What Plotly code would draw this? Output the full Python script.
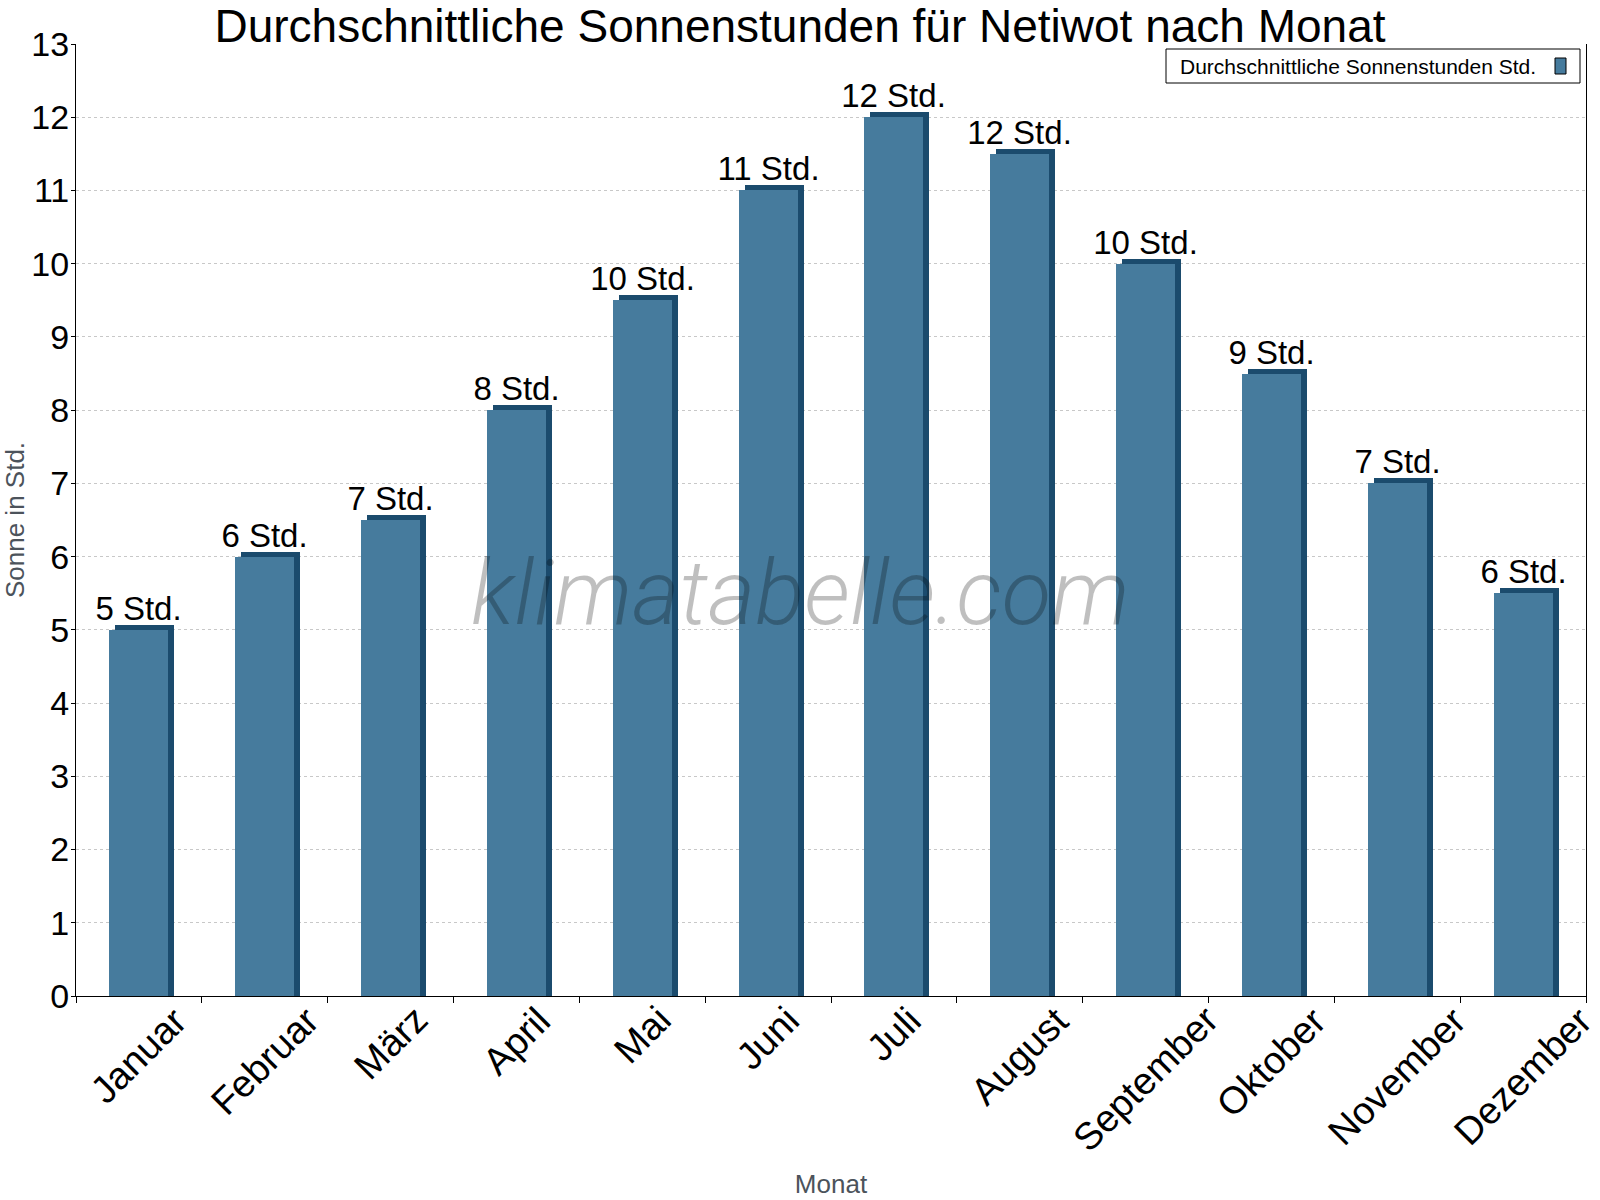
import plotly.graph_objects as go

months = ["Januar", "Februar", "März", "April", "Mai", "Juni", "Juli",
          "August", "September", "Oktober", "November", "Dezember"]
sun_hours = [5, 6, 6.5, 8, 9.5, 11, 12, 11.5, 10, 8.5, 7, 5.5]
value_labels = ["5 Std.", "6 Std.", "7 Std.", "8 Std.", "10 Std.", "11 Std.",
                "12 Std.", "12 Std.", "10 Std.", "9 Std.", "7 Std.", "6 Std."]
y_ticks = list(range(0, 14))

FRONT = "#467B9D"
DARK = "#1B4B6D"
FONT = "Liberation Sans, Arial, sans-serif"

W, H = 1600, 1200
L, R, T, B = 76, 14, 44, 204
PW, PH = W - L - R, H - T - B


def px_x(p):
    return (p - L) / PW


def px_y(p):
    return (H - B - p) / PH


bar_w = 0.469
dx = 6 / (PW / 12)
dy = 5 / (PH / 13)

fig = go.Figure()
# 3D depth (side + top) behind the front face
fig.add_trace(go.Bar(
    x=months, y=[v + dy for v in sun_hours], width=bar_w, offset=-bar_w / 2 + dx,
    marker=dict(color=DARK, line=dict(width=0)), showlegend=False, hoverinfo="skip",
))
fig.add_trace(go.Bar(
    x=months, y=sun_hours, width=bar_w, offset=-bar_w / 2,
    name="Durchschnittliche Sonnenstunden Std.",
    marker=dict(color=FRONT, line=dict(width=0)),
    text=value_labels, textposition="outside", constraintext="none",
    textfont=dict(family=FONT, size=33, color="black"), cliponaxis=False,
    showlegend=False,
))

annotations = []
for m in months:
    annotations.append(dict(
        x=m, xref="x", y=0, yref="y", yshift=0, text=m, showarrow=False,
        textangle=-45, xanchor="center", yanchor="top",
        font=dict(family=FONT, size=38, color="black"),
    ))

# watermark
annotations.append(dict(
    x=px_x(800), y=px_y(593), xref="paper", yref="paper", text="klimatabelle.com",
    showarrow=False, xanchor="center", yanchor="middle",
    font=dict(family="Roboto, sans-serif", size=91, color="rgba(0,0,0,0.25)",
              style="italic", weight=300),
))

# legend (text left, swatch right)
annotations.append(dict(
    x=px_x(1178), y=px_y(66), xref="paper", yref="paper",
    text="Durchschnittliche Sonnenstunden Std.", showarrow=False,
    xanchor="left", yanchor="middle",
    font=dict(family=FONT, size=21, color="black"),
))

shapes = [
    dict(type="rect", xref="paper", yref="paper",
         x0=px_x(1166), x1=px_x(1580), y0=px_y(49), y1=px_y(83),
         line=dict(color="black", width=1), fillcolor="white", layer="above"),
    dict(type="rect", xref="paper", yref="paper",
         x0=px_x(1555), x1=px_x(1566), y0=px_y(58), y1=px_y(74),
         line=dict(color="black", width=1), fillcolor=FRONT, layer="above"),
]

fig.update_layout(
    width=W, height=H,
    margin=dict(l=L, r=R, t=T, b=B, autoexpand=False),
    paper_bgcolor="white", plot_bgcolor="white",
    barmode="overlay", bargap=0,
    showlegend=False,
    title=dict(text="Durchschnittliche Sonnenstunden für Netiwot nach Monat",
               x=0.5, xref="container", xanchor="center",
               y=1 - 26 / H, yref="container", yanchor="middle",
               font=dict(family=FONT, size=46, color="black")),
    annotations=annotations,
    shapes=shapes,
    font=dict(family=FONT),
)

fig.update_xaxes(
    type="category", categoryorder="array", categoryarray=months,
    range=[-0.5, len(months) - 0.5],
    showticklabels=False, tickson="boundaries", ticks="outside", ticklen=6,
    tickcolor="black", showline=True, linecolor="black", linewidth=1,
    showgrid=False, zeroline=False, automargin=False,
    title=dict(text="Monat", font=dict(family=FONT, size=26, color="#4C535B"), standoff=178),
)
fig.update_yaxes(
    range=[0, 13], tickvals=y_ticks, ticks="outside", ticklen=4, tickcolor="black",
    tickfont=dict(family=FONT, size=34, color="black"), ticklabelstandoff=-5,
    showline=True, linecolor="black", linewidth=1, mirror=True,
    showgrid=True, gridcolor="#C8C8C8", griddash="dot", gridwidth=1,
    zeroline=False, automargin=False,
    title=dict(text="Sonne in Std.", font=dict(family=FONT, size=26, color="#4C535B"), standoff=0),
)

fig.write_html("out.html", config={"displayModeBar": False},
               post_script="document.body.style.margin='0';")
